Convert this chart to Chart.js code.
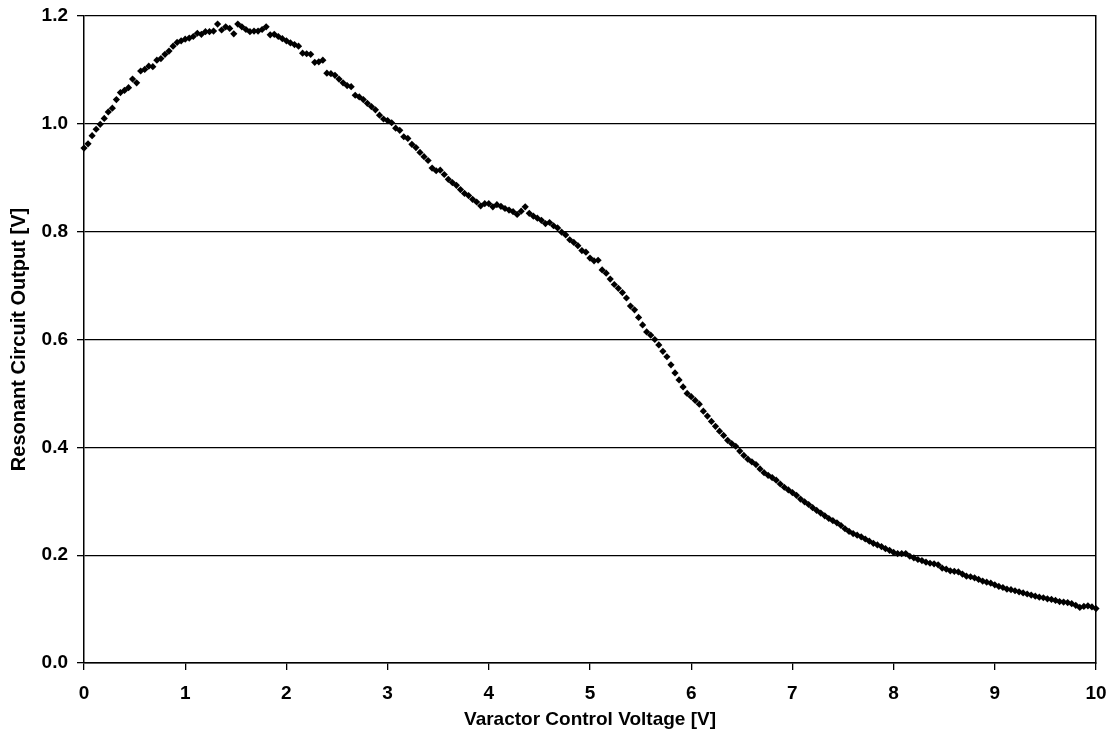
<!DOCTYPE html>
<html>
<head>
<meta charset="utf-8">
<script src="https://cdn.jsdelivr.net/npm/chart.js@4"></script>
<style>
  body { margin: 0; background: #fff; }
</style>
</head>
<body>
<canvas id="chart" width="1110" height="740"></canvas>
<script>
// Varactor control voltage [V]
const voltage = [
  0.00,0.04,0.08,0.12,0.16,0.20,0.24,0.28,0.32,0.36,0.40,0.44,0.48,0.52,0.56,0.60,0.64,0.68,0.72,0.76,
  0.80,0.84,0.88,0.92,0.96,1.00,1.04,1.08,1.12,1.16,1.20,1.24,1.28,1.32,1.36,1.40,1.44,1.48,1.52,1.56,
  1.60,1.64,1.68,1.72,1.76,1.80,1.84,1.88,1.92,1.96,2.00,2.04,2.08,2.12,2.16,2.20,2.24,2.28,2.32,2.36,
  2.40,2.44,2.48,2.52,2.56,2.60,2.64,2.68,2.72,2.76,2.80,2.84,2.88,2.92,2.96,3.00,3.04,3.08,3.12,3.16,
  3.20,3.24,3.28,3.32,3.36,3.40,3.44,3.48,3.52,3.56,3.60,3.64,3.68,3.72,3.76,3.80,3.84,3.88,3.92,3.96,
  4.00,4.04,4.08,4.12,4.16,4.20,4.24,4.28,4.32,4.36,4.40,4.44,4.48,4.52,4.56,4.60,4.64,4.68,4.72,4.76,
  4.80,4.84,4.88,4.92,4.96,5.00,5.04,5.08,5.12,5.16,5.20,5.24,5.28,5.32,5.36,5.40,5.44,5.48,5.52,5.56,
  5.60,5.64,5.68,5.72,5.76,5.80,5.84,5.88,5.92,5.96,6.00,6.04,6.08,6.12,6.16,6.20,6.24,6.28,6.32,6.36,
  6.40,6.44,6.48,6.52,6.56,6.60,6.64,6.68,6.72,6.76,6.80,6.84,6.88,6.92,6.96,7.00,7.04,7.08,7.12,7.16,
  7.20,7.24,7.28,7.32,7.36,7.40,7.44,7.48,7.52,7.56,7.60,7.64,7.68,7.72,7.76,7.80,7.84,7.88,7.92,7.96,
  8.00,8.04,8.08,8.12,8.16,8.20,8.24,8.28,8.32,8.36,8.40,8.44,8.48,8.52,8.56,8.60,8.64,8.68,8.72,8.76,
  8.80,8.84,8.88,8.92,8.96,9.00,9.04,9.08,9.12,9.16,9.20,9.24,9.28,9.32,9.36,9.40,9.44,9.48,9.52,9.56,
  9.60,9.64,9.68,9.72,9.76,9.80,9.84,9.88,9.92,9.96,10.00
];

// Resonant circuit output [V]
const output = [
  0.955,0.963,0.978,0.990,0.999,1.010,1.022,1.029,1.045,1.058,1.062,1.067,1.083,1.076,1.098,1.101,1.107,1.106,1.118,1.121,
  1.129,1.135,1.144,1.151,1.154,1.157,1.159,1.162,1.168,1.166,1.171,1.171,1.172,1.185,1.174,1.180,1.177,1.167,1.185,1.180,
  1.175,1.171,1.172,1.172,1.175,1.180,1.165,1.166,1.162,1.158,1.154,1.150,1.147,1.144,1.131,1.130,1.129,1.114,1.115,1.118,
  1.094,1.093,1.090,1.083,1.076,1.071,1.069,1.053,1.050,1.045,1.038,1.032,1.026,1.016,1.009,1.006,1.002,0.992,0.988,0.976,
  0.973,0.962,0.956,0.947,0.939,0.932,0.918,0.913,0.914,0.906,0.897,0.891,0.886,0.878,0.871,0.867,0.860,0.855,0.848,0.852,
  0.852,0.846,0.850,0.847,0.843,0.840,0.837,0.832,0.838,0.846,0.834,0.829,0.825,0.821,0.815,0.817,0.811,0.807,0.799,0.794,
  0.785,0.780,0.774,0.765,0.762,0.751,0.746,0.747,0.729,0.723,0.712,0.702,0.695,0.687,0.677,0.662,0.655,0.641,0.627,0.614,
  0.608,0.600,0.590,0.578,0.568,0.553,0.538,0.525,0.512,0.500,0.494,0.487,0.480,0.467,0.458,0.448,0.439,0.430,0.422,0.413,
  0.407,0.402,0.393,0.385,0.378,0.373,0.368,0.360,0.353,0.348,0.344,0.339,0.332,0.326,0.321,0.316,0.311,0.304,0.299,0.294,
  0.288,0.283,0.278,0.273,0.268,0.264,0.260,0.255,0.249,0.244,0.240,0.237,0.234,0.230,0.226,0.222,0.219,0.216,0.212,0.209,
  0.205,0.203,0.203,0.203,0.198,0.195,0.192,0.190,0.187,0.185,0.184,0.182,0.176,0.174,0.171,0.170,0.169,0.165,0.161,0.160,
  0.158,0.155,0.152,0.150,0.148,0.145,0.142,0.140,0.137,0.136,0.134,0.132,0.130,0.128,0.126,0.124,0.122,0.121,0.119,0.118,
  0.116,0.114,0.113,0.112,0.110,0.107,0.103,0.105,0.106,0.104,0.101
];

const xTitle = "Varactor Control Voltage [V]";
const yTitle = "Resonant Circuit Output [V]";

const FONT = "'Liberation Sans', Arial, sans-serif";

const points = voltage.map((v, i) => ({ x: v, y: output[i] }));

// fixed plot box: left 84, right 1096, top 16, bottom 663
const noPad = s => { s.paddingTop = 0; s.paddingBottom = 0; s.paddingLeft = 0; s.paddingRight = 0; };

new Chart(document.getElementById("chart"), {
  type: "scatter",
  data: {
    datasets: [{
      data: points,
      pointStyle: "rectRot",
      pointRadius: 3.6,
      pointBackgroundColor: "#000",
      pointBorderColor: "#000",
      pointBorderWidth: 0,
      clip: false
    }]
  },
  options: {
    responsive: false,
    animation: false,
    layout: { padding: { top: 16, left: 0, right: 0, bottom: 0 } },
    plugins: { legend: { display: false }, tooltip: { enabled: false } },
    scales: {
      x: {
        type: "linear",
        min: 0,
        max: 10,
        afterFit: s => { s.height = 77; noPad(s); },
        ticks: {
          stepSize: 1,
          color: "#000",
          padding: 12,
          maxRotation: 0,
          font: { family: FONT, size: 19, weight: "bold" }
        },
        grid: { drawOnChartArea: false, drawTicks: true, tickLength: 7, color: "#000", lineWidth: 1.3 },
        border: { color: "#000", width: 1.5 },
        title: {
          display: true,
          text: xTitle,
          color: "#000",
          padding: { top: 0, bottom: 9 },
          font: { family: FONT, size: 19, weight: "bold" }
        }
      },
      y: {
        type: "linear",
        min: 0,
        max: 1.2,
        afterFit: s => { s.width = 84; noPad(s); },
        ticks: {
          stepSize: 0.2,
          color: "#000",
          padding: 9,
          callback: v => v.toFixed(1),
          font: { family: FONT, size: 19, weight: "bold" }
        },
        grid: { drawOnChartArea: true, drawTicks: true, tickLength: 7, color: "#000", lineWidth: 1.3 },
        border: { color: "#000", width: 1.5 },
        title: {
          display: true,
          text: yTitle,
          color: "#000",
          padding: { top: 7, bottom: 0 },
          font: { family: FONT, size: 20, weight: "bold" }
        }
      },
      y2: {
        type: "linear",
        position: "right",
        min: 0,
        max: 1.2,
        afterFit: s => { s.width = 14; noPad(s); },
        ticks: { display: false },
        grid: { drawOnChartArea: false, drawTicks: false },
        border: { display: true, color: "#000", width: 1.5 }
      }
    }
  }
});
</script>
</body>
</html>
